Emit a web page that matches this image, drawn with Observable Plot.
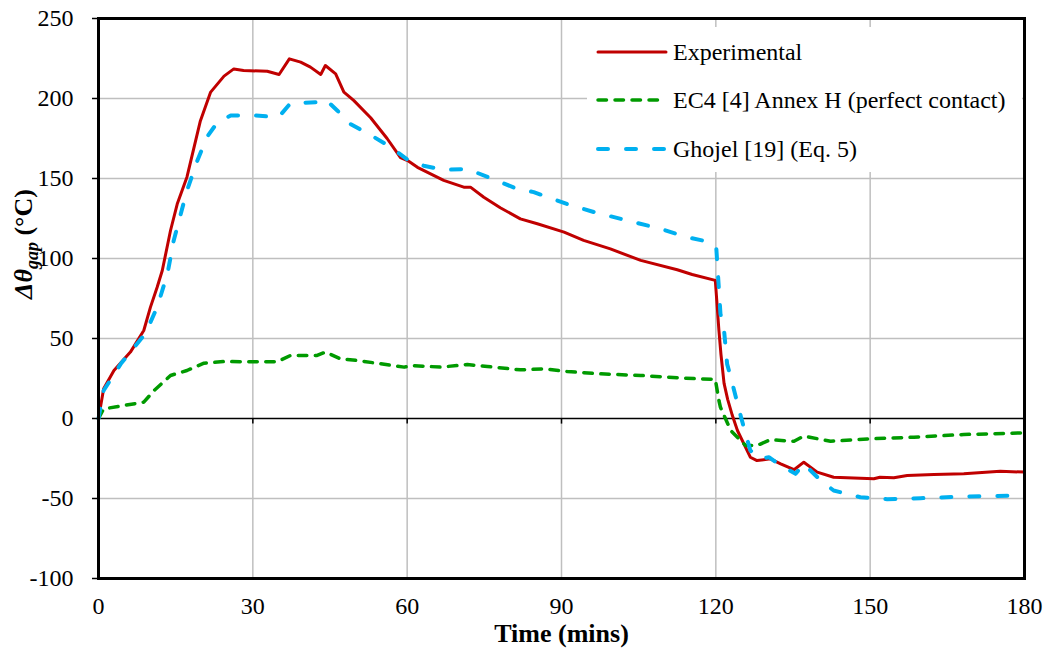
<!DOCTYPE html>
<html>
<head>
<meta charset="utf-8">
<script src="https://cdn.jsdelivr.net/npm/d3@7"></script>
<script src="https://cdn.jsdelivr.net/npm/@observablehq/plot@0.6"></script>
<style>
  html, body { margin: 0; padding: 0; background: white; }
  #chart { width: 1050px; height: 653px; }
</style>
</head>
<body>
<div id="chart"></div>
<script>
// ---- Data ----
const seriesNames = ["Experimental", "EC4 [4] Annex H (perfect contact)", "Ghojel [19] (Eq. 5)"];

const expTime = [0,1.0,3.0,6.2,8.8,10.1,11.4,12.4,14.0,15.3,17.2,19.8,21.8,24.4,26.3,28.2,32.8,35.1,37.1,39.3,41.2,43.2,44.1,46.1,47.7,49.6,52.9,56.1,58.7,60.3,62.0,67.1,71.0,72.3,74.9,78.1,82.0,85.3,90.5,94.3,99.5,105.4,112.5,115.4,119.9,120.6,121.0,121.6,122.3,123.2,124.2,126.7,128.0,130.6,132.6,135.2,137.1,139.7,142.9,150.7,151.9,154.6,157.2,162.4,168.2,175.3,180];
const expValue = [0,18.6,30,41.5,55,69.6,82,92.5,117.5,134,151,186,204,214,218.5,217.5,217,215,224.8,222.7,219.6,215,220.6,215.4,204,198.8,188,175,163,160.8,157,148.8,144.6,144.6,138.3,131.7,124.8,121.7,116.5,111.3,106,98.8,93,90,86.3,55,40,22,12,2,-7.5,-24.2,-26.3,-25.2,-28.3,-32,-27.3,-33.5,-36.7,-37.7,-36.7,-37,-35.6,-35,-34.6,-33,-33.5];

const ec4Time = [0,1.0,4.9,8.8,10.8,14.0,17.2,20.5,24.4,30.2,34.7,37.3,42.5,44.1,47.0,50.3,54.8,59.4,61.0,66.5,71.7,75.6,82.0,86.6,91.1,97.6,105.4,113.8,119.9,120.6,120.9,122.9,125.8,128.0,130.6,135.2,137.1,142.3,150.1,158.5,168.2,180];
const ec4Value = [0,6,8.1,10.2,17.5,26.9,30,34.6,35.6,35.4,35.4,39.4,39.4,41.5,37.3,36.3,34.2,32.1,33.1,32.1,33.75,32.5,30.4,31,29.4,27.9,26.9,25.2,24.4,11.25,7,-7.5,-16.9,-16.9,-13.3,-14.2,-11,-14.2,-12.7,-11.7,-10,-9];

const ghoTime = [0,1.0,4.3,7.5,9.1,11.4,13.4,14.6,17.2,19.2,21.1,23.1,25.7,30.2,35.0,37.3,42.5,44.1,46.4,49.0,53.5,56.8,60.0,63.2,67.1,71.7,75.6,81.4,84.6,91.1,96.3,104.1,109.3,114.4,119.0,120.1,120.9,121.6,122.2,122.9,124.9,126.7,128.7,130.3,132.6,135.5,137.1,140.4,142.9,148.1,153.3,159.8,168.2,180];
const ghoValue = [0,17.5,34,46.7,53,69.6,90.4,111,142.5,161,176,185,189.4,189.4,188.3,197,197.7,199.5,192.5,184,176,169.6,162,158,155.4,156,151,143.5,141.5,134,129,122.7,118.5,113.3,110.2,106,65.4,55,34,25.8,0.8,-20,-25.2,-24.2,-29.4,-34.6,-28.3,-38.8,-45,-49.2,-50.4,-49.8,-48.8,-48.1];

const xTicks = [0,30,60,90,120,150,180];
const yTicks = [-100,-50,0,50,100,150,200,250];
const xGrid = [30,60,90,120,150];
const yGrid = [-50,50,100,150,200];

// ---- Styles ----
const colors = ["#C00000", "#009A00", "#00B0F0"];
const widths = [3, 3.5, 4];
const dashes = [null, "8.5,8.5", "10,18"];
const serif = "'Liberation Serif', 'Times New Roman', serif";

const toRows = (ts, vs) => ts.map((t, i) => ({t, v: vs[i]}));
const series = [toRows(expTime, expValue), toRows(ec4Time, ec4Value), toRows(ghoTime, ghoValue)];

const lineMark = (i) => Plot.line(series[i], {
  x: "t", y: "v", stroke: colors[i], strokeWidth: widths[i],
  strokeDasharray: dashes[i] || undefined,
  strokeLinecap: dashes[i] ? "round" : "butt", strokeLinejoin: "round"
});

const chart = Plot.plot({
  width: 1050, height: 653,
  marginLeft: 98, marginRight: 26, marginTop: 18, marginBottom: 75,
  x: {domain: [0, 180]},
  y: {domain: [-100, 250]},
  style: {fontFamily: serif, fontSize: "24px", color: "black", background: "white"},
  marks: [
    Plot.gridX(xGrid, {stroke: "#BFBFBF", strokeOpacity: 1, strokeWidth: 1.5}),
    Plot.gridY(yGrid, {stroke: "#BFBFBF", strokeOpacity: 1, strokeWidth: 1.5}),
    Plot.ruleY([0], {stroke: "black", strokeWidth: 1.5}),
    Plot.ruleX(xTicks, {x: d => d, y1: 0, y2: -3.5, stroke: "black", strokeWidth: 1.5}),
    lineMark(0), lineMark(1), lineMark(2),
    Plot.frame({stroke: "black", strokeWidth: 3}),
    Plot.axisY(yTicks, {tickSize: 6, tickPadding: 19, label: null, fontSize: 24, strokeWidth: 1.5, tickFormat: d => String(d)}),
    Plot.axisX(xTicks, {tickSize: 0, tickPadding: 18, label: null, fontSize: 24, tickFormat: d => String(d)}),
    Plot.text(["Time (mins)"], {frameAnchor: "bottom", dy: 63, fontWeight: "bold", fontSize: 26, fontFamily: serif})
  ]
});
document.getElementById("chart").appendChild(chart);

// ---- Y-axis title with italic Greek and subscript ----
const svg = d3.select(chart);
const yt = svg.append("text")
  .attr("transform", "translate(32,244) rotate(-90)")
  .attr("text-anchor", "middle")
  .attr("font-family", serif).attr("font-size", 26).attr("font-weight", "bold").attr("fill", "black");
yt.append("tspan").attr("font-style", "italic").text("Δθ");
yt.append("tspan").attr("font-style", "italic").attr("font-size", 18).attr("dy", 6).text("gap");
yt.append("tspan").attr("dy", -6).text(" (°C)");

// ---- Legend (inside plot area, white box) ----
const lg = svg.append("g").attr("text-anchor", "start");
lg.append("rect").attr("x", 587).attr("y", 27).attr("width", 435).attr("height", 145)
  .attr("fill", "white").style("fill", "white").attr("stroke", "none");
const legendY = [52, 100, 149];
seriesNames.forEach((name, i) => {
  lg.append("line")
    .attr("x1", 598).attr("x2", 666).attr("y1", legendY[i]).attr("y2", legendY[i])
    .attr("stroke", colors[i]).attr("stroke-width", widths[i])
    .attr("stroke-dasharray", dashes[i])
    .attr("stroke-linecap", "round");
  lg.append("text")
    .attr("x", 673).attr("y", legendY[i]).attr("dy", "0.33em")
    .attr("text-anchor", "start")
    .attr("font-family", serif).attr("font-size", 24).attr("fill", "black")
    .text(name);
});
</script>
</body>
</html>
